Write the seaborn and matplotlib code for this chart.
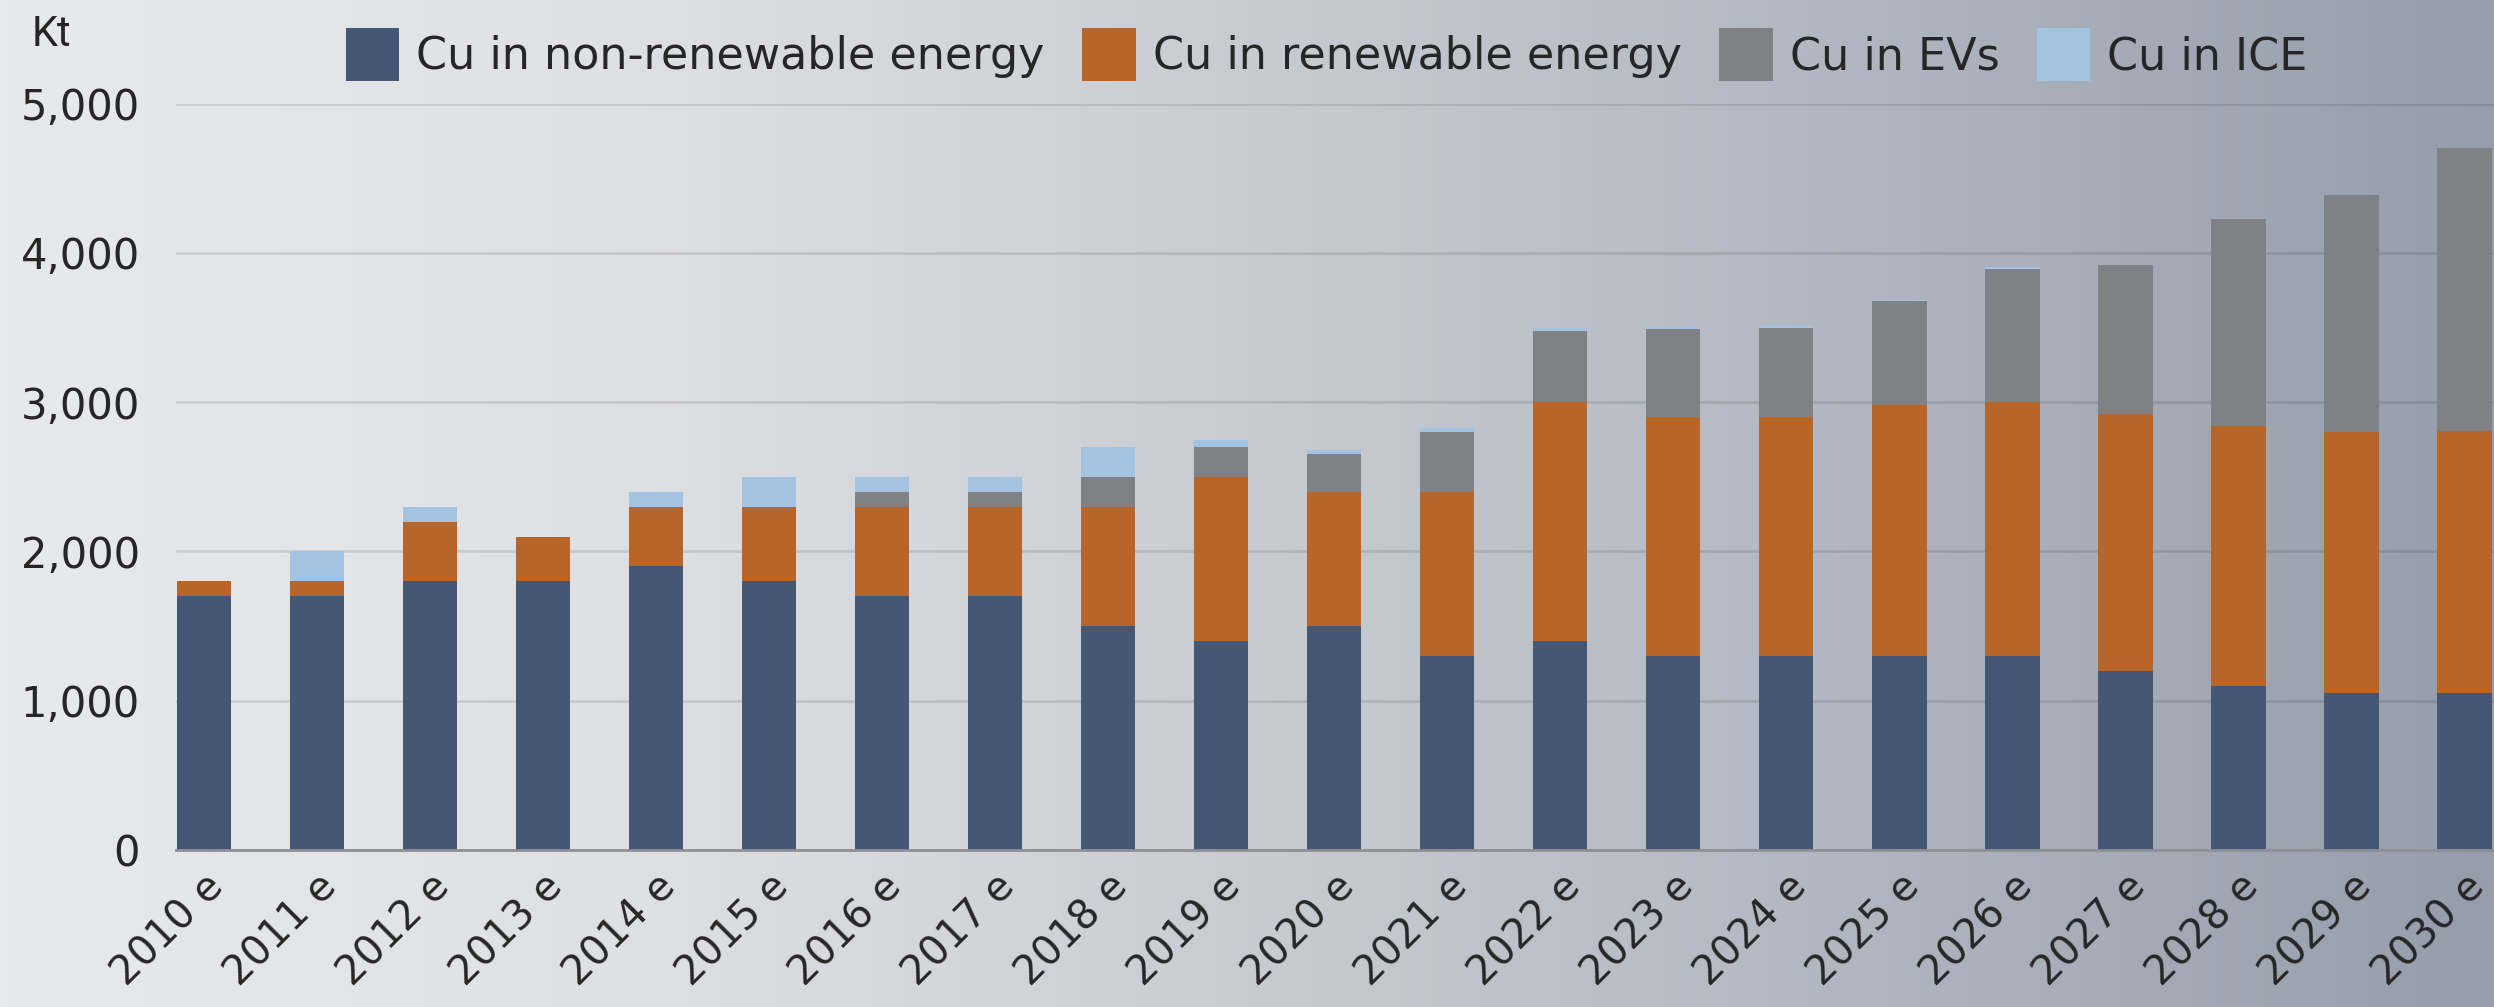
import numpy as np
import matplotlib.pyplot as plt
import seaborn as sns
from matplotlib.patches import Patch
from matplotlib.colors import LinearSegmentedColormap
from matplotlib.ticker import FuncFormatter

# Copper demand by use (Kt)
years = ["2010 e", "2011 e", "2012 e", "2013 e", "2014 e", "2015 e", "2016 e",
         "2017 e", "2018 e", "2019 e", "2020 e", "2021 e", "2022 e", "2023 e",
         "2024 e", "2025 e", "2026 e", "2027 e", "2028 e", "2029 e", "2030 e"]
non_renewable = [1700, 1700, 1800, 1800, 1900, 1800, 1700, 1700, 1500, 1400, 1500,
                 1300, 1400, 1300, 1300, 1300, 1300, 1200, 1100, 1050, 1050]
renewable = [100, 100, 400, 300, 400, 500, 600, 600, 800, 1100, 900,
             1100, 1600, 1600, 1600, 1680, 1700, 1720, 1740, 1750, 1760]
evs = [0, 0, 0, 0, 0, 0, 100, 100, 200, 200, 250,
       400, 480, 590, 600, 695, 895, 1000, 1390, 1590, 1890]
ice = [0, 200, 100, 0, 100, 200, 100, 100, 200, 50, 30,
       25, 20, 15, 10, 10, 8, 0, 0, 0, 0]

labels = ["Cu in non-renewable energy", "Cu in renewable energy", "Cu in EVs", "Cu in ICE"]
colors = ["#445775", "#b76528", "#808185", "#a4c3e1"]

sns.set_style("white")
plt.rcParams["font.family"] = ["DejaVu Sans"]

fig = plt.figure(figsize=(24.94, 10.07), dpi=100)

# gradient background
bg = fig.add_axes([0, 0, 1, 1], zorder=0)
grad = np.linspace(0, 1, 512)[None, :]
bg_cmap = LinearSegmentedColormap.from_list(
    "bg", ["#e8e9ec", "#dfe0e4", "#c8ccd2", "#b0b6c0", "#959dab"])
bg.imshow(grad, aspect="auto", cmap=bg_cmap, extent=[0, 1, 0, 1])
bg.axis("off")

ax = fig.add_axes([176 / 2494, 0.156, 1 - 176 / 2494, 0.741], zorder=1)
ax.patch.set_alpha(0)

# stacked bars: draw cumulative totals from the top layer down
layers = [non_renewable, renewable, evs, ice]
cum = np.cumsum(np.array(layers), axis=0)
for i in range(len(layers) - 1, -1, -1):
    sns.barplot(x=years, y=cum[i], color=colors[i], saturation=1,
                width=0.48, ax=ax, zorder=3, edgecolor="none")

ax.set_xlim(-0.245, 20.26)
ax.set_ylim(0, 5000)
ax.set_yticks(range(0, 5001, 1000))
ax.yaxis.set_major_formatter(FuncFormatter(lambda v, p: f"{int(v):,}"))
ax.grid(axis="y", color="black", alpha=0.1, linewidth=2)
ax.set_axisbelow(True)

for side in ["top", "right", "left"]:
    ax.spines[side].set_visible(False)
ax.spines["bottom"].set_color("#8e9095")
ax.spines["bottom"].set_linewidth(2)
ax.spines["bottom"].set_zorder(4)

ax.tick_params(axis="y", length=0, labelsize=30, pad=26)
ax.tick_params(axis="x", length=0, labelsize=29, pad=12)
for lab in ax.get_xticklabels():
    lab.set_rotation(45)
    lab.set_ha("right")
    lab.set_va("top")
    lab.set_rotation_mode("anchor")
ax.set_xlabel("")
ax.set_ylabel("")

fig.text(32 / 2494, 1 - 14 / 1007, "Kt", fontsize=30, va="top", ha="left",
         family=["Roboto", "DejaVu Sans"])

handles = [Patch(facecolor=c, edgecolor="none") for c in colors]
fig.legend(handles, labels, loc="center", bbox_to_anchor=(0.532, 0.946), ncol=4,
           frameon=False, fontsize=32, handlelength=1.2, handleheight=1.45,
           handletextpad=0.38, columnspacing=0.85)

plt.savefig("out.png", dpi=100)
